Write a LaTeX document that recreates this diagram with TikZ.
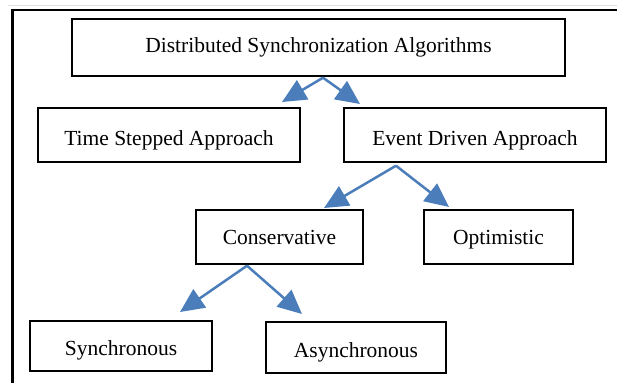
\documentclass[tikz,border=0pt]{standalone}
\usepackage{fontspec}
\setmainfont{Liberation Serif}
\usetikzlibrary{arrows.meta, positioning}
\definecolor{ArrowBlue}{rgb}{0.29,0.49,0.73}
\definecolor{Frame}{rgb}{0.0,0.0,0.0}

\begin{document}
\begin{tikzpicture}[x=1pt,y=-1pt,
    box/.style={draw=black, line width=1.4pt, inner sep=0pt, text depth=0pt, text height=20pt, font=\fontsize{21.5}{25}\selectfont},
    link/.style={ArrowBlue, line width=2.5pt, -{Triangle[length=24pt,width=22pt]}}]

    \useasboundingbox (0,0) rectangle (617,383);

    % frame
    \draw[gray!25, line width=1pt] (8,5) -- (617,5);
    \draw[Frame, line width=2.5pt] (617,10) -- (12.5,10) -- (12.5,383);

    % boxes
    \node[box, minimum width=493pt, minimum height=57pt, text height=9pt] (dsa) at (318.5,47.5) {Distributed Synchronization Algorithms};
    \node[box, minimum width=262pt, minimum height=54pt] (tsa) at (169,135) {Time Stepped Approach};
    \node[box, minimum width=262pt, minimum height=54pt] (eda) at (475,135) {Event Driven Approach};
    \node[box, minimum width=167pt, minimum height=54pt, text height=14pt] (con) at (279.5,237) {Conservative\hspace{6pt}};
    \node[box, minimum width=149pt, minimum height=54pt, text height=14pt] (opt) at (498.5,237) {Optimistic\hspace{12pt}};
    \node[box, minimum width=182pt, minimum height=50pt, text height=18pt] (syn) at (121,346) {Synchronous\hspace{22pt}};
    \node[box, minimum width=180pt, minimum height=51pt, text height=19pt] (asy) at (356,347.5) {Asynchronous\hspace{7pt}};

    % arrow tips
    \coordinate (tip-tsa) at (282,102);
    \coordinate (tip-eda) at (360,104);
    \coordinate (tip-con) at (324,208);
    \coordinate (tip-opt) at (449,207);
    \coordinate (tip-syn) at (180,312);
    \coordinate (tip-asy) at (302,314);

    % arrows
    \draw[link] ([xshift=4.5pt,yshift=-1pt]dsa.south) -- (tip-tsa);
    \draw[link] ([xshift=4.5pt,yshift=-1pt]dsa.south) -- (tip-eda);
    \draw[link] ([xshift=-79pt,yshift=-3pt]eda.south) -- (tip-con);
    \draw[link] ([xshift=-79pt,yshift=-3pt]eda.south) -- (tip-opt);
    \draw[link] ([xshift=-32.5pt,yshift=-1pt]con.south) -- (tip-syn);
    \draw[link] ([xshift=-32.5pt,yshift=-1pt]con.south) -- (tip-asy);

\end{tikzpicture}
\end{document}
